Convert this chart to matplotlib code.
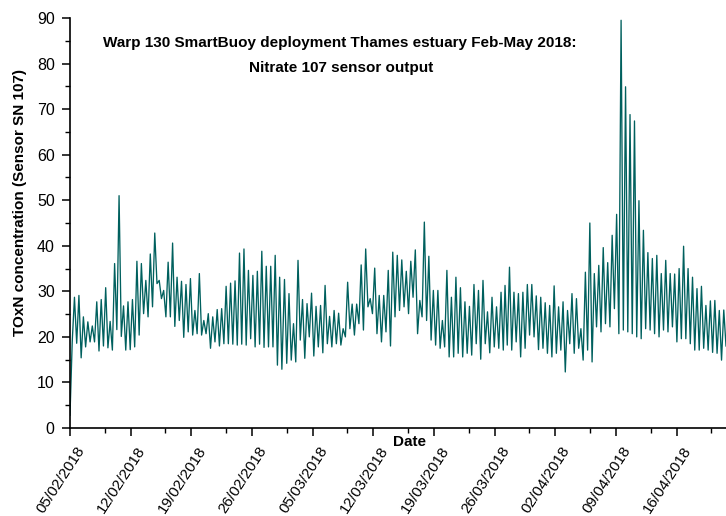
import numpy as np
import matplotlib
matplotlib.use('Agg')
import matplotlib.pyplot as plt
import matplotlib.dates as mdates
import matplotlib.transforms as mtransforms
from matplotlib.ticker import MultipleLocator, FixedLocator, NullFormatter
from datetime import datetime

plt.rcParams['font.family'] = ['Liberation Sans', 'DejaVu Sans']

# TOxN concentration (alternating tidal peaks / troughs), three segments
seg_a = [2.8, 19.0, 28.7, 18.6, 29.1, 15.4, 24.4, 17.8, 23.3, 18.9,
         22.4, 18.9, 27.7, 16.9, 28.2, 18.0, 30.8, 17.6, 23.4, 17.1,
         36.1, 21.6, 51.0, 20.1, 26.8, 17.1, 27.7, 17.2, 28.2, 17.8,
         36.6, 20.4, 36.1, 25.1, 32.4, 24.4, 38.2, 26.6, 42.8, 31.7,
         32.4, 28.4, 30.2, 24.4, 36.4, 24.4, 40.6, 22.3, 33.1, 23.6,
         32.2, 19.9, 31.5, 21.1, 32.8, 20.4, 25.8, 20.7, 33.9, 20.4,
         23.6, 20.7, 25.1, 17.5, 24.4, 18.9, 26.0, 18.0, 26.2, 18.5,
         31.1, 18.5, 31.8, 18.4, 32.3, 18.2, 38.4, 18.4, 39.3, 18.2,
         34.6, 19.6, 33.5, 17.8, 34.4, 18.4, 38.8, 17.7, 35.5, 17.8,
         35.5, 17.8, 37.9, 13.8, 33.1, 12.9]
seg_b = [32.6, 14.2, 29.5, 14.9, 22.9, 14.5, 36.8, 19.3, 28.2, 15.3,
         27.3, 20.0, 29.6, 15.8, 26.7, 17.8, 26.9, 16.5, 31.3, 18.5,
         24.5, 17.8, 25.8, 18.5, 25.2, 18.2, 21.8, 20.0, 32.0, 21.8,
         27.2, 20.4, 27.2, 22.9, 35.8, 21.5, 39.3, 26.6, 28.4, 25.1,
         35.1, 20.7, 29.1, 18.9, 29.1, 21.1, 34.6, 18.0, 38.6, 24.4,
         37.9, 25.8, 36.9, 26.6, 34.4, 25.1, 36.6, 28.7, 39.1, 20.7,
         28.0, 24.4, 45.2, 23.6, 37.7, 19.3, 30.2, 18.2, 30.2, 17.5,
         23.6, 17.8, 34.6, 15.6, 28.7, 15.6, 33.1, 16.4, 30.8, 15.6,
         27.7, 16.4, 26.7, 16.0, 31.5, 18.5, 30.2, 15.1, 32.4, 18.5,
         25.5, 16.5, 28.7, 17.8, 26.6, 17.5, 29.8, 17.1]
seg_c = [31.3, 18.2, 35.3, 17.1, 29.8, 18.9, 29.5, 15.6, 29.8, 17.5,
         31.5, 20.4, 31.5, 20.0, 29.0, 17.2, 28.7, 17.5, 27.5, 16.4,
         26.9, 15.6, 31.2, 16.4, 26.6, 17.1, 27.7, 12.3, 25.8, 18.5,
         29.5, 16.4, 28.4, 17.5, 21.8, 14.9, 34.2, 17.1, 45.0, 14.5,
         33.9, 22.2, 35.7, 21.1, 39.6, 22.9, 36.3, 22.2, 42.3, 26.2,
         46.9, 20.7, 89.5, 21.5, 74.9, 21.1, 68.8, 20.7, 67.4, 20.0,
         49.9, 19.6, 43.4, 21.8, 38.5, 21.5, 37.2, 20.7, 37.9, 20.0,
         33.9, 21.5, 36.8, 21.1, 33.9, 22.2, 33.8, 18.9, 35.0, 19.6,
         39.9, 19.6, 35.0, 18.5, 33.1, 17.1, 30.6, 17.1, 31.1, 17.5,
         26.9, 17.1, 27.9, 16.6, 28.0, 16.4, 25.8, 14.9, 25.9, 18.0]
# segment time spans (days after 05/02/2018)
seg_spans = [(0.0, 24.45), (24.75, 50.0), (50.2, 75.7)]
start_date = datetime(2018, 2, 5)
x_end_days = 75.7
tick_labels = ['05/02/2018', '12/02/2018', '19/02/2018', '26/02/2018', '05/03/2018',
               '12/03/2018', '19/03/2018', '26/03/2018', '02/04/2018', '09/04/2018',
               '16/04/2018']

t0 = mdates.date2num(start_date)
xs, ys = [], []
for vals, (s, e) in zip([seg_a, seg_b, seg_c], seg_spans):
    xs.append(t0 + np.linspace(s, e, len(vals)))
    ys.append(np.array(vals))
x = np.concatenate(xs)
y = np.concatenate(ys)

fig = plt.figure(figsize=(7.26, 5.16), dpi=100)
ax = fig.add_axes([70/726, 88/516, 656/726, 410/516])
ax.plot(x, y, color='#00605e', lw=0.95)

ax.set_xlim(t0, t0 + x_end_days)
ax.set_ylim(0, 90)

major = [t0 + 7*i for i in range(len(tick_labels))]
minor = [t0 + 4 + 7*i for i in range(len(tick_labels))]
ax.xaxis.set_major_locator(FixedLocator(major))
ax.xaxis.set_minor_locator(FixedLocator(minor))
ax.xaxis.set_major_formatter(NullFormatter())
# rotated date labels placed under each major tick
lab_tr = ax.get_xaxis_transform() + mtransforms.ScaledTranslation(0.06, -0.16, fig.dpi_scale_trans)
for pos, lab in zip(major, tick_labels):
    ax.text(pos, 0, lab, transform=lab_tr, rotation=57, ha='right', va='top',
            rotation_mode='anchor', fontsize=11, clip_on=False)

ax.yaxis.set_major_locator(MultipleLocator(10))
ax.yaxis.set_minor_locator(MultipleLocator(5))
ax.tick_params(axis='y', labelsize=11.5, pad=5)
ax.tick_params(which='major', direction='out', length=6, width=1.1)
ax.tick_params(which='minor', direction='out', length=3.5, width=1.0)

for s in ['top', 'right']:
    ax.spines[s].set_visible(False)
for s in ['left', 'bottom']:
    ax.spines[s].set_linewidth(1.2)

ax.set_ylabel('TOxN concentration (Sensor SN 107)', fontsize=11, fontweight='bold')
ax.yaxis.set_label_coords(-0.0655, 0.549)
ax.set_xlabel('Date', fontsize=11, fontweight='bold')
ax.xaxis.set_label_coords(0.518, -0.016)

ax.text(0.4116, 0.939, 'Warp 130 SmartBuoy deployment Thames estuary Feb-May 2018:',
        transform=ax.transAxes, ha='center', va='center', fontsize=11, fontweight='bold')
ax.text(0.414, 0.878, 'Nitrate 107 sensor output',
        transform=ax.transAxes, ha='center', va='center', fontsize=11, fontweight='bold')

fig.savefig('out.png', dpi=100)
